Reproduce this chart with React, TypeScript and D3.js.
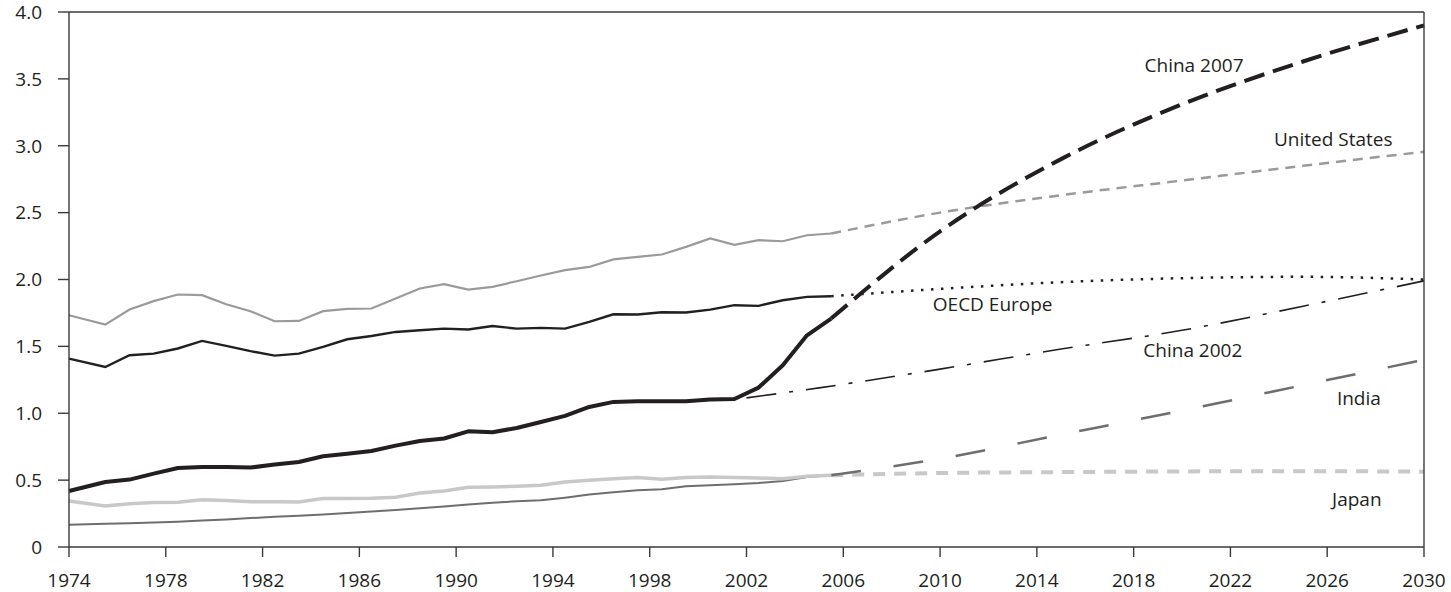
import React from 'react';
import * as d3 from 'd3';

// historical points sit mid-year, the first one on the axis start
const histYears = [1974, ...d3.range(1975.5, 2006, 1)];

const usHist = [1.733, 1.663, 1.776, 1.838, 1.888, 1.883, 1.815, 1.763, 1.688, 1.69, 1.763, 1.78, 1.783, 1.858, 1.933, 1.965, 1.925, 1.945, 1.987, 2.03, 2.07, 2.094, 2.15, 2.169, 2.187, 2.244, 2.307, 2.259, 2.294, 2.286, 2.331, 2.344];
const oecdHist = [1.409, 1.346, 1.434, 1.446, 1.484, 1.541, 1.504, 1.464, 1.431, 1.446, 1.496, 1.553, 1.578, 1.608, 1.621, 1.633, 1.626, 1.652, 1.633, 1.638, 1.633, 1.683, 1.74, 1.738, 1.755, 1.753, 1.775, 1.808, 1.803, 1.845, 1.87, 1.875];
const chinaHist = [0.419, 0.486, 0.504, 0.549, 0.591, 0.598, 0.598, 0.594, 0.616, 0.636, 0.678, 0.698, 0.718, 0.758, 0.793, 0.811, 0.865, 0.858, 0.89, 0.935, 0.98, 1.047, 1.085, 1.09, 1.09, 1.09, 1.102, 1.107, 1.192, 1.359, 1.583, 1.708];
const japanHist = [0.344, 0.307, 0.324, 0.332, 0.334, 0.354, 0.347, 0.339, 0.339, 0.337, 0.362, 0.362, 0.364, 0.372, 0.404, 0.419, 0.447, 0.449, 0.454, 0.461, 0.486, 0.499, 0.511, 0.519, 0.506, 0.519, 0.524, 0.519, 0.516, 0.511, 0.529, 0.536];
const indiaHist = [0.167, 0.173, 0.178, 0.184, 0.189, 0.198, 0.206, 0.216, 0.226, 0.233, 0.243, 0.254, 0.265, 0.276, 0.289, 0.303, 0.318, 0.33, 0.342, 0.349, 0.369, 0.392, 0.409, 0.424, 0.432, 0.454, 0.461, 0.469, 0.479, 0.494, 0.524, 0.536];

const projYears = [2005.5, 2010, 2015, 2020, 2025, 2030];
const usProj = [2.344, 2.5, 2.63, 2.74, 2.85, 2.955];
const china2007Proj = [1.708, 2.36, 2.9, 3.31, 3.63, 3.9];
const oecdProj = [1.875, 1.93, 1.98, 2.01, 2.02, 2.0];
const indiaProj = [0.536, 0.66, 0.84, 1.02, 1.21, 1.4];
const japanProj = [0.536, 0.553, 0.56, 0.565, 0.567, 0.563];

const china2002Years = [2002, 2005, 2010, 2015, 2020, 2025, 2030];
const china2002Proj = [1.115, 1.19, 1.33, 1.48, 1.62, 1.8, 1.99];

const xTicks = d3.range(1974, 2031, 4);
const yTicks = [0, 0.5, 1, 1.5, 2, 2.5, 3, 3.5, 4];

const labels = [
  { text: 'China 2007', year: 2018.45, value: 3.555 },
  { text: 'United States', year: 2023.8, value: 3.0 },
  { text: 'OECD Europe', year: 2009.7, value: 1.763 },
  { text: 'China 2002', year: 2018.4, value: 1.419 },
  { text: 'India', year: 2026.4, value: 1.06 },
  { text: 'Japan', year: 2026.2, value: 0.307 },
];

const width = 1451;
const height = 592;
const margin = { top: 12, right: 27, bottom: 45, left: 69 };
const ink = '#231f20';
const font = '"Open Sans", sans-serif';

export default function App() {
  const x = d3
    .scaleLinear()
    .domain([1974, 2030])
    .range([margin.left, width - margin.right]);
  const y = d3
    .scaleLinear()
    .domain([0, 4])
    .range([height - margin.bottom, margin.top]);

  const straight = d3
    .line<[number, number]>()
    .x((d) => x(d[0]))
    .y((d) => y(d[1]));
  const smooth = d3
    .line<[number, number]>()
    .x((d) => x(d[0]))
    .y((d) => y(d[1]))
    .curve(d3.curveMonotoneX);

  const pair = (xs: number[], vs: number[]) =>
    xs.map((v, i) => [v, vs[i]] as [number, number]);

  const x0 = x(1974);
  const x1 = x(2030);
  const y0 = y(0);
  const y1 = y(4);

  return (
    <svg
      width={width}
      height={height}
      style={{ position: 'absolute', left: 0, top: 0, display: 'block' }}
      fontFamily={font}
    >
      <rect x={0} y={0} width={width} height={height} fill="#fff" />

      {/* projections */}
      <path d={smooth(pair(projYears, usProj)) as string} fill="none" stroke="#9a9a9a" strokeWidth={2.5} strokeDasharray="10,7" />
      <path d={smooth(pair(projYears, japanProj)) as string} fill="none" stroke="#c8c8c8" strokeWidth={4} strokeDasharray="12,9" />
      <path d={smooth(pair(projYears, indiaProj)) as string} fill="none" stroke="#6d6e71" strokeWidth={2.5} strokeDasharray="30,33" />
      <path d={smooth(pair(china2002Years, china2002Proj)) as string} fill="none" stroke={ink} strokeWidth={1.6} strokeDasharray="30,13,4,13" />
      <path d={smooth(pair(projYears, oecdProj)) as string} fill="none" stroke={ink} strokeWidth={2.5} strokeDasharray="2.5,7.5" />
      <path d={smooth(pair(projYears, china2007Proj)) as string} fill="none" stroke={ink} strokeWidth={4} strokeDasharray="21,9" />

      {/* history */}
      <path d={straight(pair(histYears, indiaHist)) as string} fill="none" stroke="#6d6e71" strokeWidth={2} />
      <path d={straight(pair(histYears, japanHist)) as string} fill="none" stroke="#c8c8c8" strokeWidth={3.5} />
      <path d={straight(pair(histYears, usHist)) as string} fill="none" stroke="#9a9a9a" strokeWidth={2.2} />
      <path d={straight(pair(histYears, oecdHist)) as string} fill="none" stroke={ink} strokeWidth={2.4} />
      <path d={straight(pair(histYears, chinaHist)) as string} fill="none" stroke={ink} strokeWidth={4} strokeLinejoin="round" />

      {/* frame */}
      <g stroke="#3a3a3a" strokeWidth={1.4} fill="none">
        <line x1={x0} y1={y1} x2={x1} y2={y1} />
        <line x1={x1} y1={y1} x2={x1} y2={y0} />
        <line x1={x0} y1={y0} x2={x1} y2={y0} />
        <line x1={x0} y1={y1} x2={x0} y2={y0} />
      </g>

      {/* y axis */}
      {yTicks.map((t) => (
        <g key={t}>
          <line x1={x0 - 11} x2={x0} y1={y(t)} y2={y(t)} stroke="#3a3a3a" strokeWidth={1.4} />
          <text x={x0 - 27} y={y(t)} dy="0.36em" textAnchor="end" fontSize={19} fill={ink}>
            {t === 0 ? '0' : d3.format('.1f')(t)}
          </text>
        </g>
      ))}

      {/* x axis */}
      {xTicks.map((t) => (
        <g key={t}>
          <line x1={x(t)} x2={x(t)} y1={y0} y2={y0 + 10} stroke="#3a3a3a" strokeWidth={1.4} />
          <text x={x(t)} y={y0 + 40} textAnchor="middle" fontSize={19} fill={ink}>
            {t}
          </text>
        </g>
      ))}

      {/* series labels */}
      {labels.map((l) => (
        <text key={l.text} x={x(l.year)} y={y(l.value)} fontSize={19} fill={ink}>
          {l.text}
        </text>
      ))}
    </svg>
  );
}
